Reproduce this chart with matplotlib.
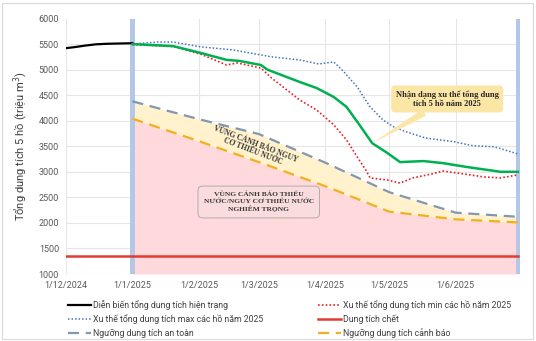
import matplotlib
matplotlib.use("Agg")
import matplotlib.pyplot as plt
import matplotlib.dates as mdates
import matplotlib.patches as mpatches
import pandas as pd

plt.rcParams['font.family'] = ['Roboto', 'DejaVu Sans']

## ## data (trieu m3)
hien_trang_ngay = ["2024-12-01", "2024-12-05", "2024-12-10", "2024-12-15", "2024-12-20",
                   "2024-12-25", "2024-12-31", "2025-01-01"]
hien_trang = [5420, 5440, 5470, 5495, 5505, 5510, 5515, 5520]

xu_the_ngay = ["2025-01-01", "2025-01-20", "2025-02-02", "2025-02-14", "2025-02-20", "2025-03-02",
               "2025-03-05", "2025-03-20", "2025-03-28", "2025-04-05", "2025-04-11", "2025-04-17",
               "2025-04-23", "2025-04-30", "2025-05-06", "2025-05-17", "2025-05-26", "2025-06-06",
               "2025-06-22", "2025-06-30"]
xu_the = [5500, 5460, 5325, 5190, 5170, 5090, 5000, 4760, 4640, 4465, 4270, 3920,
          3560, 3370, 3190, 3210, 3170, 3095, 3000, 3000]

min_ngay = ["2025-01-01", "2025-01-20", "2025-02-02", "2025-02-14", "2025-02-19", "2025-03-02",
            "2025-03-07", "2025-03-20", "2025-03-28", "2025-04-05", "2025-04-11", "2025-04-16",
            "2025-04-20", "2025-04-22", "2025-04-30", "2025-05-06", "2025-05-12", "2025-05-21",
            "2025-05-26", "2025-06-02", "2025-06-14", "2025-06-22", "2025-06-30"]
min_ho = [5490, 5450, 5300, 5090, 5130, 5030, 4835, 4410, 4210, 3920, 3625, 3290,
          3035, 2880, 2840, 2780, 2880, 2960, 3015, 2975, 2900, 2880, 2940]

max_ngay = ["2025-01-01", "2025-01-13", "2025-01-20", "2025-02-02", "2025-02-17", "2025-03-07",
            "2025-03-20", "2025-03-29", "2025-04-05", "2025-04-09", "2025-04-16", "2025-04-22",
            "2025-04-28", "2025-05-03", "2025-05-09", "2025-05-18", "2025-05-31", "2025-06-09",
            "2025-06-19", "2025-06-30"]
max_ho = [5500, 5540, 5540, 5445, 5385, 5250, 5190, 5110, 5150, 4990, 4660, 4270,
          4015, 3880, 3780, 3660, 3590, 3510, 3490, 3350]

nguong_ngay = ["2025-01-01", "2025-02-01", "2025-03-01", "2025-04-01", "2025-05-01",
               "2025-06-01", "2025-06-30"]
an_toan = [4380, 4030, 3740, 3180, 2600, 2200, 2120]
canh_bao = [4040, 3600, 3190, 2720, 2220, 2070, 2010]

dung_tich_chet = 1360

thang = ["2024-12-01", "2025-01-01", "2025-02-01", "2025-03-01", "2025-04-01",
         "2025-05-01", "2025-06-01"]
nhan_thang = ["1/12/2024", "1/1/2025", "1/2/2025", "1/3/2025", "1/4/2025", "1/5/2025", "1/6/2025"]

d = pd.to_datetime

## ## plot
fig = plt.figure(figsize=(5.36, 3.41), dpi=100)
fig.patches.append(mpatches.Rectangle((0.004, 0.006), 0.99, 0.985, transform=fig.transFigure,
                                      fill=False, edgecolor="#D9D9D9", linewidth=0.8))
ax = fig.add_axes([66 / 536, 1 - 274 / 341, 454 / 536, 255.5 / 341])

ax.fill_between(d(nguong_ngay), 1000, canh_bao, color="#FFD9DC", linewidth=0, zorder=1)
ax.fill_between(d(nguong_ngay), canh_bao, an_toan, color="#FFF2CC", linewidth=0, zorder=1)

ax.axvline(d("2025-01-01"), color="#B4C7E7", linewidth=3.6, zorder=2)
ax.axvline(d("2025-06-30"), color="#B4C7E7", linewidth=3.6, zorder=2)

ax.plot(d(hien_trang_ngay), hien_trang, color="black", linewidth=1.6, zorder=5,
        label="Diễn biến tổng dung tích hiện trạng")
ax.plot(d(max_ngay), max_ho, color="#4472C4", linewidth=1.1, linestyle=(0, (1, 1.3)), zorder=4,
        label="Xu thế tổng dung tích max các hồ năm 2025")
ax.plot(d(nguong_ngay), an_toan, color="#8497B0", linewidth=1.6, linestyle=(0, (5, 3)), zorder=3,
        label="Ngưỡng dung tích an toàn")
ax.plot(d(min_ngay), min_ho, color="#E8202A", linewidth=1.2, linestyle=(0, (1, 1.3)), zorder=4,
        label="Xu thế tổng dung tích min các hồ năm 2025")
ax.plot([d("2024-12-01"), d("2025-06-30")], [dung_tich_chet, dung_tich_chet], color="#E03C31",
        linewidth=1.8, zorder=3, label="Dung tích chết")
ax.plot(d(nguong_ngay), canh_bao, color="#F2B01E", linewidth=1.6, linestyle=(0, (5, 3)), zorder=3,
        label="Ngưỡng dung tích cảnh báo")
ax.plot(d(xu_the_ngay), xu_the, color="#00B050", linewidth=1.8, zorder=5)

ax.set_xlim(d("2024-12-01"), d("2025-07-01"))
ax.set_ylim(1000, 6000)
ax.set_yticks(range(1000, 6001, 500))
ax.set_xticks(d(thang))
ax.set_xticklabels(nhan_thang)
ax.grid(True, color="#E6E6E6", linewidth=0.8)
ax.set_axisbelow(True)
for s in ax.spines.values():
    s.set_visible(False)
ax.tick_params(length=0, labelsize=6.5, labelcolor="#595959", pad=5)
ax.set_ylabel("Tổng dung tích 5 hồ (triệu m$^3$)", fontsize=8, color="#404040", labelpad=6)

## ## texts in the zones
serif = "Liberation Serif"
ax.text(d("2025-02-27"), 3470, "VÙNG CẢNH BÁO NGUY\nCƠ THIẾU NƯỚC", rotation=-21,
        ha="center", va="center", fontsize=5.5, fontweight="bold", family=serif,
        color="#3A3A3A", linespacing=1.05, zorder=6)
ax.text(d("2025-03-01"), 2409, "VÙNG CẢNH BÁO THIẾU\nNƯỚC/NGUY CƠ THIẾU NƯỚC\nNGHIÊM TRỌNG",
        ha="center", va="center", fontsize=5.4, fontweight="bold", family=serif,
        color="#3A3A3A", linespacing=1.3, zorder=6,
        bbox=dict(boxstyle="round,pad=0.75,rounding_size=0.6", fc="#FBDCDC", ec="#A6A6A6", lw=0.6))
ax.annotate("Nhận dạng xu thế tổng dung\ntích 5 hồ năm 2025", xy=(d("2025-04-23"), 3560),
            xytext=(d("2025-05-28"), 4425), ha="center", va="center", fontsize=6,
            fontweight="bold", family=serif, color="#262626", zorder=7,
            bbox=dict(boxstyle="round,pad=0.55,rounding_size=0.5", fc="#FCE6A6", ec="none"),
            arrowprops=dict(arrowstyle="wedge,tail_width=0.9,shrink_factor=0.5", fc="#FCE6A6",
                            ec="none", shrinkA=0, shrinkB=0))

## ## legend
fig.legend(loc="upper left", bbox_to_anchor=(68 / 536, 1 - 300 / 341), ncol=2, frameon=False,
           fontsize=6.3, handlelength=2.6, handletextpad=0.3, columnspacing=6.2,
           labelspacing=0.5, borderpad=0, borderaxespad=0, labelcolor="#404040")

fig.savefig("out.png", dpi=100)
